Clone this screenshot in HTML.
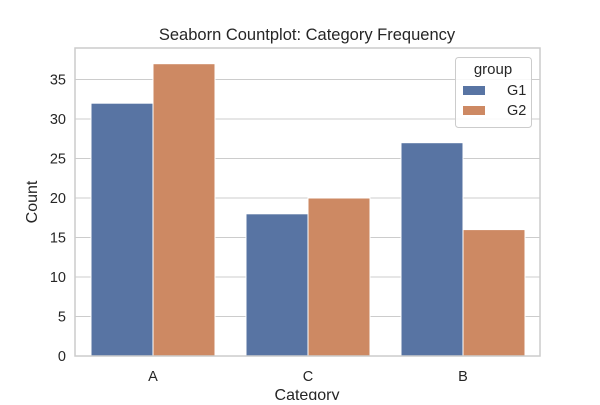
<!DOCTYPE html>
<html><head><style>body{margin:0;background:#fff}</style></head><body>
<svg width="600" height="400" xmlns="http://www.w3.org/2000/svg" font-family="Liberation Sans, DejaVu Sans, sans-serif">
<rect x="75" y="48" width="465" height="308" fill="#fff"/>
<g stroke="#cccccc" stroke-width="1">
<line x1="75" x2="540" y1="316.5" y2="316.5"/>
<line x1="75" x2="540" y1="277" y2="277"/>
<line x1="75" x2="540" y1="237.5" y2="237.5"/>
<line x1="75" x2="540" y1="198" y2="198"/>
<line x1="75" x2="540" y1="158.5" y2="158.5"/>
<line x1="75" x2="540" y1="119" y2="119"/>
<line x1="75" x2="540" y1="79.5" y2="79.5"/>
</g>
<g stroke="#fff" stroke-width="1">
<rect x="91" y="103.2" width="62" height="252.8" fill="#5874a3"/>
<rect x="153" y="63.7" width="62" height="292.3" fill="#cd8963"/>
<rect x="246" y="213.8" width="62" height="142.2" fill="#5874a3"/>
<rect x="308" y="198" width="62" height="158" fill="#cd8963"/>
<rect x="401" y="142.7" width="62" height="213.3" fill="#5874a3"/>
<rect x="463" y="229.6" width="62" height="126.4" fill="#cd8963"/>
</g>
<rect x="75" y="48" width="465" height="308" fill="none" stroke="#cccccc" stroke-width="1.5"/>
<g font-size="14.5" fill="#262626" text-anchor="end">
<text x="66" y="361">0</text><text x="66" y="321.5">5</text><text x="66" y="282">10</text>
<text x="66" y="242.5">15</text><text x="66" y="203">20</text><text x="66" y="163.5">25</text>
<text x="66" y="124">30</text><text x="66" y="84.5">35</text>
</g>
<g font-size="14.5" fill="#262626" text-anchor="middle">
<text x="153" y="381">A</text><text x="308" y="381">C</text><text x="463" y="381">B</text>
<text x="307" y="400" font-size="16">Category</text>
<text x="307" y="40" font-size="16.5">Seaborn Countplot: Category Frequency</text>
<text transform="translate(37,202) rotate(-90)" font-size="16">Count</text>
</g>
<rect x="455.5" y="57.5" width="76" height="70" rx="3" fill="#fff" fill-opacity="0.85" stroke="#cccccc"/>
<text x="493" y="74" font-size="15" fill="#262626" text-anchor="middle">group</text>
<rect x="463" y="86" width="22" height="9" fill="#5874a3"/>
<text x="507" y="95" font-size="14.5" fill="#262626">G1</text>
<rect x="463" y="106" width="22" height="9" fill="#cd8963"/>
<text x="507" y="115" font-size="14.5" fill="#262626">G2</text>
</svg>
</body></html>
